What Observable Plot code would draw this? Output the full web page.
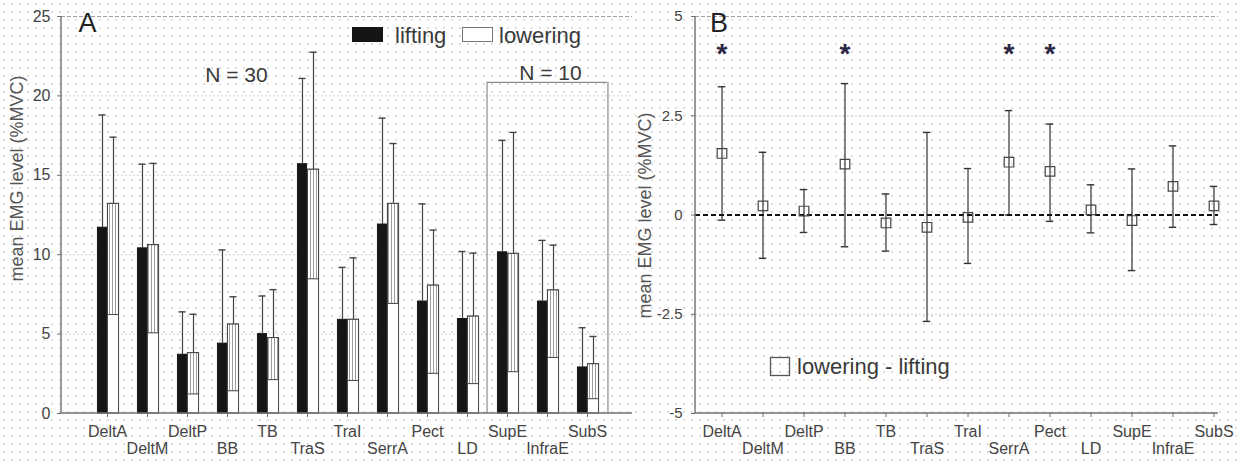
<!DOCTYPE html>
<html>
<head>
<meta charset="utf-8">
<script src="https://cdn.jsdelivr.net/npm/d3@7"></script>
<script src="https://cdn.jsdelivr.net/npm/@observablehq/plot@0.6"></script>
<style>
html, body { margin: 0; padding: 0; background: #fff; }
body {
  width: 1239px; height: 462px; overflow: hidden;
  background-image: radial-gradient(circle, #dedede 0.8px, transparent 1.2px);
  background-size: 8px 8px;
}
#wrap { display: flex; align-items: flex-start; }
</style>
</head>
<body>
<div id="wrap"></div>
<script>
// ---------- data ----------
const cats = ["DeltA","DeltM","DeltP","BB","TB","TraS","TraI","SerrA","Pect","LD","SupE","InfraE","SubS"];
// Panel A: mean EMG (%MVC)
const liftMean = [11.7, 10.4, 3.7, 4.4, 5.0, 15.7, 5.9, 11.9, 7.05, 5.95, 10.15, 7.05, 2.9];
const liftTop  = [18.8, 15.7, 6.4, 10.3, 7.4, 21.1, 9.2, 18.6, 13.2, 10.2, 17.2, 10.9, 5.4];
const lowMean  = [13.2, 10.6, 3.8, 5.6, 4.75, 15.35, 5.9, 13.2, 8.05, 6.1, 10.05, 7.75, 3.1];
const lowTop   = [17.4, 15.75, 6.25, 7.35, 7.8, 22.75, 9.8, 17.0, 11.55, 10.1, 17.7, 10.6, 4.85];
const lowShade = [6.2, 5.05, 1.2, 1.4, 2.1, 8.45, 2.05, 6.9, 2.5, 1.85, 2.6, 3.5, 0.9];
// Panel B: lowering - lifting
const diffMean = [1.55, 0.23, 0.1, 1.28, -0.2, -0.31, -0.06, 1.33, 1.1, 0.13, -0.14, 0.72, 0.23];
const diffHi   = [3.23, 1.58, 0.64, 3.31, 0.53, 2.08, 1.17, 2.63, 2.29, 0.76, 1.16, 1.74, 0.72];
const diffLo   = [-0.13, -1.09, -0.44, -0.8, -0.91, -2.68, -1.22, 0.0, -0.16, -0.45, -1.4, -0.31, -0.24];
const significant = [true, false, false, true, false, false, false, true, true, false, false, false, false];
const starLevel = 4.2;
// annotations / ticks
const yTicksA = [0, 5, 10, 15, 20, 25];
const gridA = [5, 10, 15, 20];
const yTicksB = [-5, -2.5, 0, 2.5, 5];
const gridB = [-2.5, 2.5];
const nGroups = [["N = 30"], ["N = 10"]];
const n10Cats = ["SupE", "InfraE", "SubS"];
const n10BoxTop = 20.85;
const seriesNames = ["lifting", "lowering"];
const diffName = "lowering - lifting";
const yLabel = "mean EMG level (%MVC)";

// ---------- helpers ----------
const FONT = '"Liberation Sans", Arial, Helvetica, sans-serif';
const evenCats = cats.filter((_, i) => i % 2 === 0);
const oddCats = cats.filter((_, i) => i % 2 === 1);
const rowsA = cats.map((c, i) => ({cat: c, lift: liftMean[i], liftTop: liftTop[i], low: lowMean[i], lowTop: lowTop[i], shade: lowShade[i]}));
const rowsB = cats.map((c, i) => ({cat: c, d: diffMean[i], hi: diffHi[i], lo: diffLo[i], sig: significant[i]}));

const axisLines = (index, scales, values, dims) => {
  const {width, height, marginLeft, marginRight, marginTop, marginBottom} = dims;
  const g = d3.create("svg:g").attr("stroke", "#6f6f6f").attr("stroke-width", 1.4);
  g.append("line").attr("x1", marginLeft).attr("x2", marginLeft).attr("y1", marginTop).attr("y2", height - marginBottom);
  g.append("line").attr("x1", marginLeft).attr("x2", width - marginRight).attr("y1", height - marginBottom).attr("y2", height - marginBottom);
  return g.node();
};

const legendA = () => {
  const g = d3.create("svg:g").attr("font-family", FONT).attr("font-size", 22).attr("fill", "#3a3a3a").attr("text-anchor", "start");
  g.append("rect").attr("x", 352).attr("y", 27).attr("width", 31).attr("height", 15).attr("fill", "#151515");
  g.append("text").attr("x", 395).attr("y", 43).text(seriesNames[0]);
  g.append("rect").attr("x", 462.5).attr("y", 27.5).attr("width", 30).attr("height", 14).attr("fill", "#fff").attr("stroke", "#777");
  g.append("text").attr("x", 499).attr("y", 43).text(seriesNames[1]);
  return g.node();
};

// ---------- Panel A ----------
const AW = 634, H = 462;
const aRange = [81.5, 613.2];
const bwA = (aRange[1] - aRange[0]) / cats.length;
const liftW = 10, lowW = 12;

const chartA = Plot.plot({
  width: AW, height: H,
  marginLeft: 61, marginRight: 2, marginTop: 16, marginBottom: 49,
  style: {background: "transparent", fontFamily: FONT, color: "#444", overflow: "visible"},
  x: {type: "band", domain: cats, range: aRange, padding: 0},
  y: {domain: [0, 25]},
  marks: [
    Plot.ruleY(gridA, {stroke: "#c2c2c2", strokeDasharray: "1.5,2.5"}),
    Plot.ruleY([25], {stroke: "#a0a0a0", strokeDasharray: "4,2"}),
    Plot.axisY({ticks: yTicksA, tickSize: 4, tickPadding: 7, fontSize: 16, label: null, stroke: "#6f6f6f"}),
    Plot.axisX({ticks: evenCats, tickSize: 4, tickPadding: 8, fontSize: 16, label: null, stroke: "#6f6f6f"}),
    Plot.axisX({ticks: oddCats, tickSize: 4, tickPadding: 25, fontSize: 16, label: null, stroke: "#6f6f6f"}),
    // N = 10 box
    Plot.tickY(n10Cats, {x: d => d, y: () => n10BoxTop, stroke: "#8a8a8a", strokeWidth: 1.2}),
    Plot.ruleX([n10Cats[0]], {x: d => d, y1: 0, y2: n10BoxTop, dx: -bwA / 2, stroke: "#8a8a8a", strokeWidth: 1.2}),
    Plot.ruleX([n10Cats[n10Cats.length - 1]], {x: d => d, y1: 0, y2: n10BoxTop, dx: bwA / 2, stroke: "#8a8a8a", strokeWidth: 1.2}),
    // lifting bars
    Plot.barY(rowsA, {x: "cat", y: "lift", fill: "#151515", stroke: "#151515", insetLeft: bwA / 2 - liftW, insetRight: bwA / 2}),
    // lowering bars
    Plot.barY(rowsA, {x: "cat", y: "low", fill: "#fff", stroke: "#444", insetLeft: bwA / 2, insetRight: bwA / 2 - lowW}),
    Plot.barY(rowsA, {x: "cat", y1: "shade", y2: "low", fill: "url(#hatchA)", stroke: "#444", insetLeft: bwA / 2, insetRight: bwA / 2 - lowW}),
    // error bars
    Plot.ruleX(rowsA, {x: "cat", y1: "lift", y2: "liftTop", dx: -liftW / 2, stroke: "#444", strokeWidth: 1.2}),
    Plot.tickY(rowsA, {x: "cat", y: "liftTop", stroke: "#444", strokeWidth: 1.4, insetLeft: bwA / 2 - liftW / 2 - 4, insetRight: bwA / 2 + liftW / 2 - 4}),
    Plot.ruleX(rowsA, {x: "cat", y1: "low", y2: "lowTop", dx: lowW / 2, stroke: "#444", strokeWidth: 1.2}),
    Plot.tickY(rowsA, {x: "cat", y: "lowTop", stroke: "#444", strokeWidth: 1.4, insetLeft: bwA / 2 + lowW / 2 - 4, insetRight: bwA / 2 - lowW / 2 - 4}),
    axisLines,
    // texts
    Plot.text(["A"], {frameAnchor: "top-left", textAnchor: "middle", lineAnchor: "middle", dx: 26, dy: 7, fontSize: 27, fill: "#222"}),
    Plot.text(nGroups[0], {frameAnchor: "top-left", textAnchor: "middle", lineAnchor: "middle", dx: 175, dy: 59, fontSize: 21, fill: "#3a3a3a"}),
    Plot.text(nGroups[1], {frameAnchor: "top-left", textAnchor: "middle", lineAnchor: "middle", dx: 489, dy: 57, fontSize: 21, fill: "#3a3a3a"}),
    Plot.text([yLabel], {frameAnchor: "top-left", textAnchor: "middle", lineAnchor: "middle", dx: -44, dy: 162, rotate: -90, fontSize: 18, fill: "#555"}),
    legendA
  ]
});

// hatch pattern for the lowering bars
{
  const defs = d3.select(chartA).insert("defs", ":first-child");
  const p = defs.append("pattern").attr("id", "hatchA").attr("width", 3).attr("height", 4).attr("patternUnits", "userSpaceOnUse");
  p.append("rect").attr("width", 3).attr("height", 4).attr("fill", "#fff");
  p.append("line").attr("x1", 1.5).attr("x2", 1.5).attr("y1", 0).attr("y2", 4).attr("stroke", "#9c9c9c").attr("stroke-width", 1);
}

// ---------- Panel B ----------
const BW = 605;
const bRange = [63.535, 603.425];
const bwB = (bRange[1] - bRange[0]) / cats.length;

const legendB = () => {
  const g = d3.create("svg:g").attr("font-family", FONT).attr("font-size", 22).attr("fill", "#3a3a3a").attr("text-anchor", "start");
  g.append("rect").attr("x", 136.5).attr("y", 357.5).attr("width", 19).attr("height", 18).attr("fill", "none").attr("stroke", "#555").attr("stroke-width", 1.3);
  g.append("text").attr("x", 163).attr("y", 374).text(diffName);
  return g.node();
};

const chartB = Plot.plot({
  width: BW, height: H,
  marginLeft: 61, marginRight: 21, marginTop: 16, marginBottom: 49,
  style: {background: "transparent", fontFamily: FONT, color: "#444", overflow: "visible"},
  x: {type: "band", domain: cats, range: bRange, padding: 0},
  y: {domain: [-5, 5]},
  marks: [
    Plot.ruleY(gridB, {stroke: "#c2c2c2", strokeDasharray: "1.5,2.5"}),
    Plot.ruleY([5], {stroke: "#a0a0a0", strokeDasharray: "4,2"}),
    Plot.axisY({ticks: yTicksB, tickFormat: d => String(d), tickSize: 4, tickPadding: 9, fontSize: 15, label: null, stroke: "#6f6f6f"}),
    Plot.axisX({ticks: evenCats, tickSize: 4, tickPadding: 8, fontSize: 16, label: null, stroke: "#6f6f6f"}),
    Plot.axisX({ticks: oddCats, tickSize: 4, tickPadding: 25, fontSize: 16, label: null, stroke: "#6f6f6f"}),
    Plot.ruleX(rowsB, {x: "cat", y1: "lo", y2: "hi", stroke: "#333", strokeWidth: 1.2}),
    Plot.tickY(rowsB, {x: "cat", y: "hi", stroke: "#333", strokeWidth: 1.4, insetLeft: bwB / 2 - 4, insetRight: bwB / 2 - 4}),
    Plot.tickY(rowsB, {x: "cat", y: "lo", stroke: "#333", strokeWidth: 1.4, insetLeft: bwB / 2 - 4, insetRight: bwB / 2 - 4}),
    Plot.ruleY([0], {stroke: "#111", strokeWidth: 2, strokeDasharray: "5,3"}),
    Plot.dot(rowsB, {x: "cat", y: "d", symbol: "square", r: 5.4, stroke: "#444", strokeWidth: 1.2, fill: "none"}),
    Plot.text(rowsB.filter(d => d.sig), {x: "cat", y: () => starLevel, text: () => "*", fontSize: 28, fontWeight: "bold", dy: 6, fill: "#2b2545"}),
    axisLines,
    Plot.text(["B"], {frameAnchor: "top-left", textAnchor: "middle", lineAnchor: "middle", dx: 23.5, dy: 7, fontSize: 27, fill: "#222"}),
    Plot.text([yLabel], {frameAnchor: "top-left", textAnchor: "middle", lineAnchor: "middle", dx: -50.5, dy: 199, rotate: -90, fontSize: 18, fill: "#555"}),
    legendB
  ]
});

document.getElementById("wrap").append(chartA, chartB);
</script>
</body>
</html>
